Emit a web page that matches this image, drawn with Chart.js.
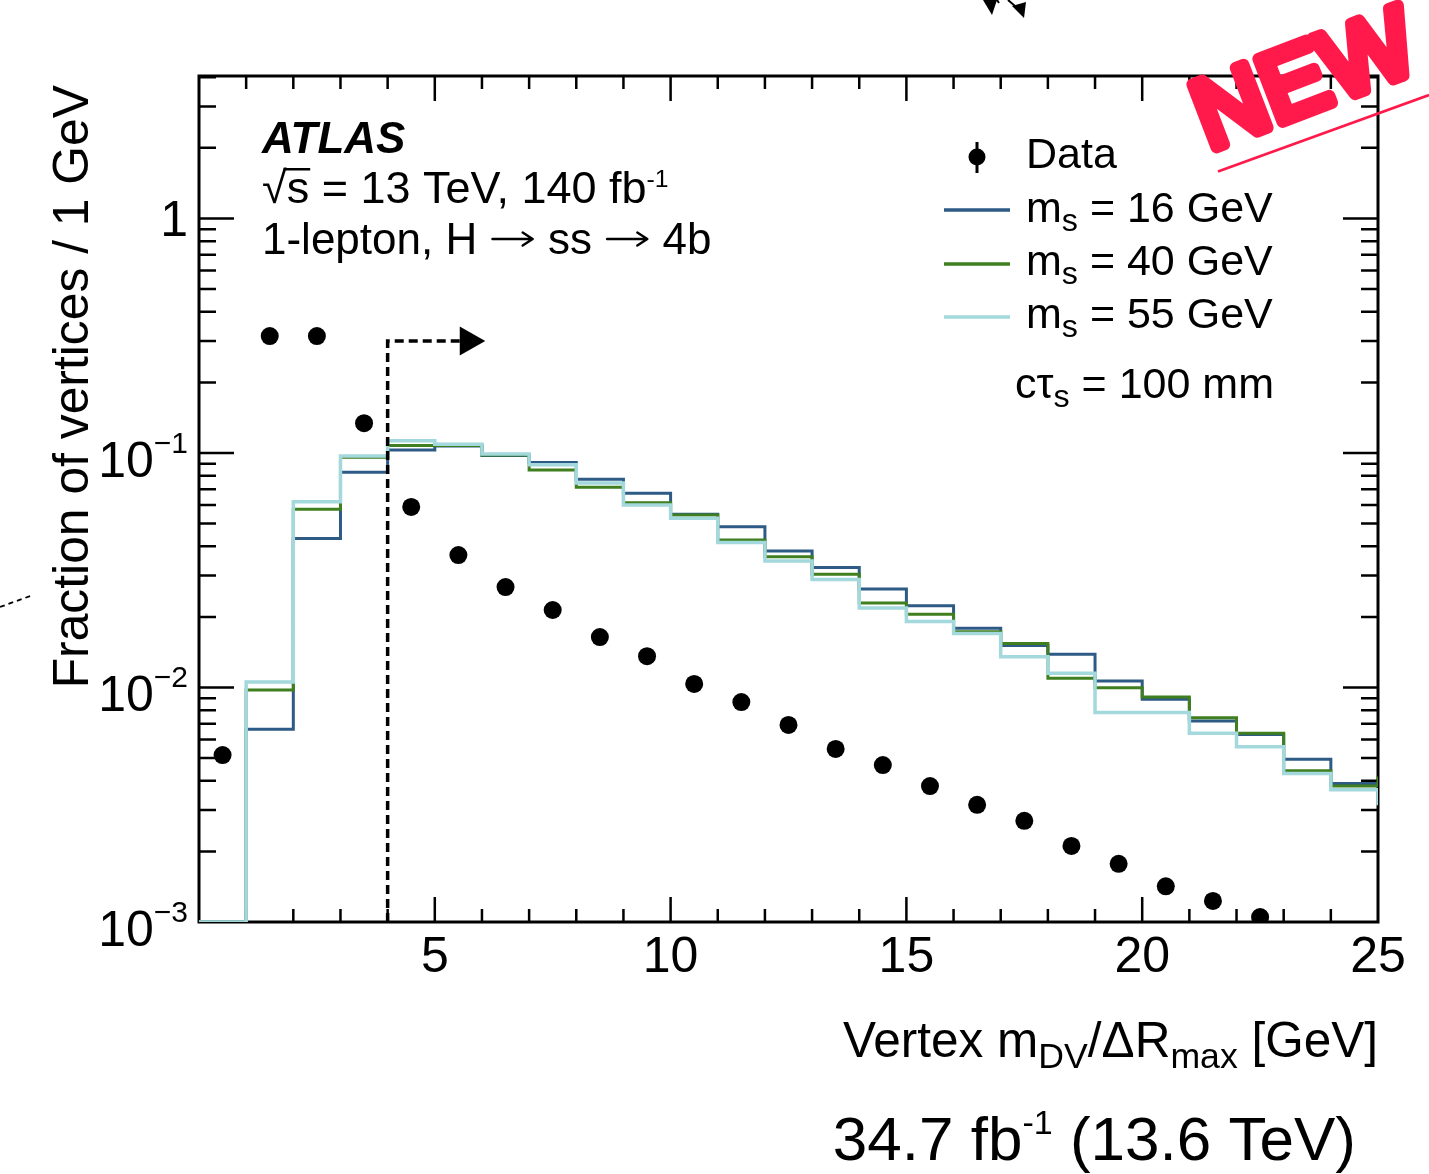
<!DOCTYPE html>
<html><head><meta charset="utf-8">
<script src="https://cdn.jsdelivr.net/npm/chart.js@4"></script>
<style>html,body{margin:0;padding:0;background:#fff;}canvas{display:block;}</style>
</head><body>
<canvas id="c" width="1429" height="1174"></canvas>
<script>
// ---------------- data ----------------
const binEdges = [0,1,2,3,4,5,6,7,8,9,10,11,12,13,14,15,16,17,18,19,20,21,22,23,24,25];
// bin contents for bins [0,1),[1,2),...,[24,25) plus the value just past 25 (overflow edge)
const ms16 = [0.001,0.00664,0.0432,0.0828,0.103,0.107,0.0975,0.091,0.0773,0.0673,0.0548,0.0485,0.0382,0.0325,0.0263,0.0223,0.0179,0.0151,0.01385,0.01066,0.0089,0.0072,0.0063,0.00494,0.0039,0.0039];
const ms40 = [0.001,0.00975,0.0575,0.096,0.1075,0.1075,0.098,0.0846,0.0715,0.0614,0.0544,0.0426,0.0361,0.0304,0.0229,0.0205,0.0173,0.0154,0.01094,0.00998,0.0091,0.00743,0.00638,0.00442,0.0038,0.00417];
const ms55 = [0.001,0.01055,0.0619,0.097,0.1127,0.109,0.099,0.089,0.0745,0.060,0.0527,0.0415,0.0346,0.0289,0.0218,0.0191,0.0170,0.01353,0.0115,0.00783,0.00783,0.00638,0.00559,0.0043,0.00366,0.00315];
const dataCenters = [0.5,1.5,2.5,3.5,4.5,5.5,6.5,7.5,8.5,9.5,10.5,11.5,12.5,13.5,14.5,15.5,16.5,17.5,18.5,19.5,20.5,21.5,22.5];
const dataValues = [0.00515,0.315,0.315,0.134,0.0589,0.0367,0.0268,0.0214,0.0164,0.0136,0.01035,0.00867,0.00692,0.00547,0.00467,0.0038,0.00316,0.0027,0.00211,0.00177,0.00142,0.00123,0.00105];
const cutLineX = [4,4,5.55];
const cutLineY = [0.001,0.30,0.30];
const arrowTipX = 6.07;
const xTickValues = [5,10,15,20,25];
const xTickLabels = ['5','10','15','20','25'];
const yTickValues = [0.001,0.01,0.1,1];
const yTickLabels = [['10','\u22123'],['10','\u22122'],['10','\u22121'],['1','']];
const seriesNames = ['16','40','55'];
const seriesColors = ['#2d5b86','#3f7f1f','#a3d8dc'];

// ---------------- helpers ----------------
const FF = '"Liberation Sans", Arial, Helvetica, sans-serif';
function pts(xs, ys){ return xs.map((x,i)=>({x:x, y:ys[i]})); }

function rich(ctx, segs, x, y, size, align, opt){
  opt = opt || {};
  const weight = opt.weight || '';
  const subS = opt.subS || 0.72, supS = opt.supS || 0.6;
  const subD = opt.subD || 0.22, supD = opt.supD || 0.42;
  const parts = segs.map(([t,k])=>{
    if(k==='arrow') return {t,k,s:size,w:size*1.05};
    const s = k==='sub'? size*subS : k==='sup'? size*supS : size;
    ctx.font = `${weight} ${s}px ${FF}`;
    return {t,k,s,w:ctx.measureText(t).width};
  });
  const total = parts.reduce((a,p)=>a+p.w,0);
  let cx = align==='right'? x-total : align==='center'? x-total/2 : x;
  ctx.textAlign='left'; ctx.textBaseline='alphabetic';
  const pos=[];
  for(const p of parts){
    if(p.k==='arrow'){
      const ay = y - size*0.34;
      ctx.save(); ctx.strokeStyle=ctx.fillStyle; ctx.lineWidth=2.4; ctx.lineCap='round'; ctx.lineJoin='round';
      ctx.beginPath(); ctx.moveTo(cx+3, ay); ctx.lineTo(cx+p.w-3, ay);
      ctx.moveTo(cx+p.w-13, ay-6.5); ctx.lineTo(cx+p.w-3, ay); ctx.lineTo(cx+p.w-13, ay+6.5);
      ctx.stroke(); ctx.restore();
    } else {
      ctx.font = `${weight} ${p.s}px ${FF}`;
      const dy = p.k==='sub'? size*subD : p.k==='sup'? -size*supD : 0;
      ctx.fillText(p.t, cx, y+dy);
    }
    pos.push({x:cx,w:p.w});
    cx += p.w;
  }
  return pos;
}

const framePlugin = {
  id:'frame',
  beforeDraw(chart){
    const c=chart.ctx; c.save(); c.fillStyle='#fff'; c.fillRect(0,0,chart.width,chart.height); c.restore();
  },
  beforeDatasetsDraw(chart){
    const c=chart.ctx, xs=chart.scales.x, ys=chart.scales.y, a=chart.chartArea;
    c.save();
    // ticks
    c.strokeStyle='#000'; c.lineWidth=2.5; c.lineCap='butt';
    c.beginPath();
    for(let v=1; v<25; v++){
      const px = xs.getPixelForValue(v);
      const L = (v%5===0)? 25 : 13;
      c.moveTo(px,a.bottom); c.lineTo(px,a.bottom-L);
      c.moveTo(px,a.top); c.lineTo(px,a.top+L);
    }
    for(let d=-3; d<=0; d++){
      for(let k=1; k<=9; k++){
        const v = k*Math.pow(10,d);
        if(v<=0.001 || v>=ys.max) continue;
        const py = ys.getPixelForValue(v);
        const L = k===1? 35 : 17;
        c.moveTo(a.left,py); c.lineTo(a.left+L,py);
        c.moveTo(a.right,py); c.lineTo(a.right-L,py);
      }
    }
    c.stroke();
    // frame
    c.lineWidth=3;
    c.strokeRect(a.left,a.top,a.right-a.left,a.bottom-a.top);
    c.restore();
  },
  afterDatasetsDraw(chart){
    const c=chart.ctx, xs=chart.scales.x, ys=chart.scales.y;
    c.save();
    // arrow head of the cut line
    const yA = ys.getPixelForValue(cutLineY[2]);
    const xBase = xs.getPixelForValue(cutLineX[2]), xTip = xs.getPixelForValue(arrowTipX);
    c.fillStyle='#000';
    c.beginPath(); c.moveTo(xTip,yA); c.lineTo(xBase-1,yA-14.5); c.lineTo(xBase-1,yA+14.5); c.closePath(); c.fill();
    c.restore();
  },
  afterDraw(chart){
    const c=chart.ctx, xs=chart.scales.x, ys=chart.scales.y, a=chart.chartArea;
    c.save();
    c.fillStyle='#000';
    // x tick labels
    c.font=`50px ${FF}`; c.textAlign='center'; c.textBaseline='alphabetic';
    xTickValues.forEach((v,i)=>{ c.fillText(xTickLabels[i], xs.getPixelForValue(v), a.bottom+50); });
    // y tick labels
    yTickValues.forEach((v,i)=>{
      const py = ys.getPixelForValue(v);
      const [m,e] = yTickLabels[i];
      if(e===''){ rich(c, [[m,'n']], 188, py+18, 50, 'right'); }
      else { rich(c, [[m,'n'],[e,'sup']], 188, py+24, 50, 'right', {supS:0.6, supD:0.48}); }
    });
    // y title
    c.save(); c.translate(88,85); c.rotate(-Math.PI/2);
    c.font=`49.8px ${FF}`; c.textAlign='right'; c.textBaseline='alphabetic';
    c.fillText('Fraction of vertices / 1 GeV',0,0);
    c.restore();
    // x title
    rich(c, [['Vertex m','n'],['DV','sub'],['/\u0394R','n'],['max','sub'],[' [GeV]','n']], a.right, 1057, 49.5, 'right');
    // ATLAS labels
    c.font=`italic bold 44px ${FF}`; c.textAlign='left';
    c.fillText('ATLAS', 262, 153);
    const p = rich(c, [['\u221As','n'],[' = 13 TeV, 140 fb','n'],['-1','sup']], 262, 203, 45, 'left', {supS:0.55, supD:0.36});
    c.font=`45px ${FF}`;
    const wr = c.measureText('\u221A').width, ws = c.measureText('\u221As').width;
    c.fillRect(p[0].x+wr-3, 203-35, ws-wr+4, 2.5);
    rich(c, [['1-lepton, H ','n'],['','arrow'],[' ss ','n'],['','arrow'],[' 4b','n']], 262, 254, 44, 'left');
    // legend
    const lx0=944, lx1=1010, tx=1026;
    c.fillStyle='#000'; c.strokeStyle='#000'; c.lineWidth=3;
    c.beginPath(); c.moveTo(977,142); c.lineTo(977,173); c.stroke();
    c.beginPath(); c.arc(977,157,8.5,0,Math.PI*2); c.fill();
    rich(c, [['Data','n']], tx, 168, 43, 'left');
    const ly=[210,264,317], lb=[222,275,328];
    seriesNames.forEach((nm,i)=>{
      c.strokeStyle=seriesColors[i]; c.lineWidth=3.5;
      c.beginPath(); c.moveTo(lx0,ly[i]); c.lineTo(lx1,ly[i]); c.stroke();
      c.fillStyle='#000';
      rich(c, [['m','n'],['s','sub'],[' = '+nm+' GeV','n']], tx, lb[i], 43, 'left', {subS:0.75, subD:0.2});
    });
    rich(c, [['c\u03C4','n'],['s','sub'],[' = 100 mm','n']], 1274, 398, 43, 'right', {subS:0.75, subD:0.2});
    // bottom luminosity label
    rich(c, [['34.7 fb','n'],['-1','sup'],[' (13.6 TeV)','n']], 1356, 1160, 62, 'right', {supS:0.55, supD:0.42});
    // NEW stamp
    c.save();
    c.fillStyle='#ff1a4b'; c.strokeStyle='#ff1a4b';
    c.translate(1306,84); c.rotate(-21*Math.PI/180);
    c.font=`98px ${FF}`; c.textAlign='center'; c.textBaseline='middle';
    c.lineJoin='round'; c.lineCap='round'; c.lineWidth=12;
    c.strokeText('NEW',0,0); c.fillText('NEW',0,0);
    c.restore();
    c.strokeStyle='#ff1a4b'; c.lineWidth=2.7;
    c.beginPath(); c.moveTo(1218,171.5); c.lineTo(1429,95); c.stroke();
    // collage fragments
    c.fillStyle='#000';
    c.beginPath(); c.moveTo(983,0); c.lineTo(997,0); c.lineTo(992,15); c.closePath(); c.fill();
    c.beginPath(); c.moveTo(1012,6); c.lineTo(1026,2); c.lineTo(1024,18); c.closePath(); c.fill();
    c.lineWidth=2; c.strokeStyle='#000';
    c.beginPath(); c.moveTo(997,0); c.lineTo(999,3); c.moveTo(1008,0); c.lineTo(1015,6); c.stroke();
    c.setLineDash([5,4]); c.lineWidth=1.8;
    c.beginPath(); c.moveTo(0,607); c.lineTo(33,595); c.stroke();
    c.restore();
  }
};

const hist = (vals, col, ord, bw) => ({
  type:'line', data: pts(binEdges, vals), stepped:'before', borderColor:col, borderWidth:bw,
  pointRadius:0, fill:false, tension:0, order:ord, borderCapStyle:'butt', borderJoinStyle:'miter'
});

new Chart(document.getElementById('c'), {
  type:'line',
  data:{ datasets:[
    { type:'line', data: pts(dataCenters, dataValues), showLine:false, pointRadius:9, pointHoverRadius:9,
      pointBackgroundColor:'#000', pointBorderWidth:0, order:0 },
    { type:'line', data: pts(cutLineX, cutLineY), borderColor:'#000', borderWidth:3.5, borderDash:[9,5],
      pointRadius:0, fill:false, order:1 },
    hist(ms55, seriesColors[2], 2, 3.5),
    hist(ms40, seriesColors[1], 3, 3),
    hist(ms16, seriesColors[0], 4, 3)
  ]},
  options:{
    responsive:false, animation:false, devicePixelRatio:1,
    layout:{ padding:{ left:199, right:51, top:76, bottom:252 } },
    plugins:{ legend:{display:false}, tooltip:{enabled:false} },
    scales:{
      x:{ type:'linear', min:0, max:25, display:false },
      y:{ type:'logarithmic', min:0.001, max:4.05, display:false }
    }
  },
  plugins:[framePlugin]
});
</script>
</body></html>
